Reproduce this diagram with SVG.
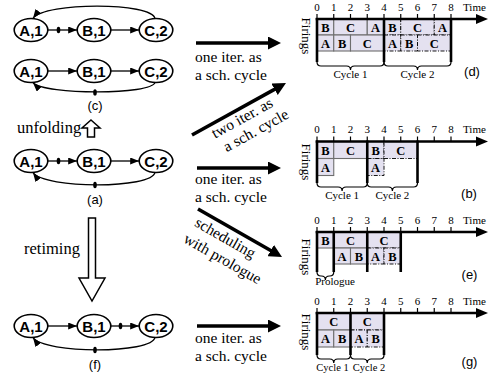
<svg xmlns="http://www.w3.org/2000/svg" width="492" height="377" viewBox="0 0 492 377">
  <style>
    .serif { font-family: "Liberation Serif", "Times New Roman", serif; fill: #000; }
    .sans { font-family: "Liberation Sans", Arial, sans-serif; fill: #000; }
    .cap { font-size: 16.5px; }
    .note { font-size: 15.5px; }
    .tag { font-size: 13px; text-anchor: middle; }
    .node ellipse { fill: #fff; stroke: #000; stroke-width: 1.6; }
    .node text { font-family: "Liberation Sans", Arial, sans-serif; font-weight: bold; font-size: 15px; text-anchor: middle; }
    .edge { fill: none; stroke: #000; stroke-width: 1.3; marker-end: url(#ah); }
    .delay { fill: #000; }
    .big { stroke: #000; stroke-width: 3.6; marker-end: url(#bh); }
    .hollow { fill: #fff; stroke: #000; stroke-width: 1.5; stroke-linejoin: miter; }
    .axis { stroke: #000; stroke-width: 2.6; }
    .tick { stroke: #000; stroke-width: 1.2; }
    .tnum { font-size: 11px; text-anchor: middle; }
    .time { font-size: 11px; }
    .fir { font-size: 13px; text-anchor: middle; }
    .cell { fill: #e4e1f0; stroke: #6e6e6e; stroke-width: 1.1; }
    .celld { fill: #e4e1f0; stroke: #000; stroke-width: 0.9; stroke-dasharray: 4 1.5 1 1.5; }
    .job { font-family: "Liberation Serif", "Times New Roman", serif; font-weight: bold; font-size: 12.5px; text-anchor: middle; }
    .bound { stroke: #000; stroke-width: 2.6; }
    .brace { fill: none; stroke: #000; stroke-width: 1.2; }
    .cyc { font-size: 11px; text-anchor: middle; }
    .cycs { font-size: 10.5px; text-anchor: middle; }
  </style>
  <defs>
    <marker id="ah" markerUnits="userSpaceOnUse" markerWidth="9" markerHeight="7" refX="9" refY="3.5" orient="auto">
      <path d="M0,0 L9,3.5 L0,7 z" fill="#000"/>
    </marker>
    <marker id="bh" markerUnits="userSpaceOnUse" markerWidth="13" markerHeight="13" refX="4" refY="6.5" orient="auto">
      <path d="M0,0 L13,6.5 L0,13 z" fill="#000"/>
    </marker>
    <polygon id="axhead" points="0,-5 12,0 0,5" fill="#000"/>
  </defs>

  <!-- ===== graph (c): two unfolded copies ===== -->
  <g id="graph-c">
    <g id="c1-A" class="node"><ellipse cx="31" cy="30" rx="16.8" ry="11.5"/><text x="31" y="35.5">A,1</text></g>
    <g id="c1-B" class="node"><ellipse cx="94" cy="30" rx="16.8" ry="11.5"/><text x="94" y="35.5">B,1</text></g>
    <g id="c1-C" class="node"><ellipse cx="156" cy="30" rx="16.8" ry="11.5"/><text x="156" y="35.5">C,2</text></g>
    <g id="c2-A" class="node"><ellipse cx="31" cy="71" rx="16.8" ry="11.5"/><text x="31" y="76.5">A,1</text></g>
    <g id="c2-B" class="node"><ellipse cx="94" cy="71" rx="16.8" ry="11.5"/><text x="94" y="76.5">B,1</text></g>
    <g id="c2-C" class="node"><ellipse cx="156" cy="71" rx="16.8" ry="11.5"/><text x="156" y="76.5">C,2</text></g>
  </g>
  <g id="edges-c">
    <line class="edge" x1="47.8" y1="30" x2="77.2" y2="30"/>
    <ellipse class="delay" cx="58.5" cy="30" rx="1.8" ry="3.2"/>
    <line class="edge" x1="110.8" y1="30" x2="139.2" y2="30"/>
    <path class="edge" d="M155,18.6 C152,2 45,2 33,18.3"/>
    <line class="edge" x1="47.8" y1="71" x2="77.2" y2="71"/>
    <line class="edge" x1="110.8" y1="71" x2="139.2" y2="71"/>
    <path class="edge" d="M155,82.4 C152,95 45,95 33,82.7"/>
    <ellipse class="delay" cx="95" cy="92.4" rx="1.8" ry="3.2"/>
  </g>
  <text class="sans tag" x="95" y="109.5">(c)</text>

  <!-- unfolding arrow -->
  <text class="serif cap" x="17" y="133">unfolding</text>
  <polygon class="hollow" points="91,120 100,128 94.5,128 94.5,137 87.5,137 87.5,128 82,128"/>

  <!-- ===== graph (a): original ===== -->
  <g id="graph-a">
    <g id="a-A" class="node"><ellipse cx="31" cy="161" rx="16.8" ry="11.5"/><text x="31" y="166.5">A,1</text></g>
    <g id="a-B" class="node"><ellipse cx="94" cy="161" rx="16.8" ry="11.5"/><text x="94" y="166.5">B,1</text></g>
    <g id="a-C" class="node"><ellipse cx="156" cy="161" rx="16.8" ry="11.5"/><text x="156" y="166.5">C,2</text></g>
  </g>
  <g id="edges-a">
    <line class="edge" x1="47.8" y1="161" x2="77.2" y2="161"/>
    <ellipse class="delay" cx="58.5" cy="161" rx="1.8" ry="3.2"/>
    <line class="edge" x1="110.8" y1="161" x2="139.2" y2="161"/>
    <path class="edge" d="M155,172.4 C152,189 45,189 33,172.7"/>
    <ellipse class="delay" cx="95" cy="185" rx="1.8" ry="3.2"/>
  </g>
  <text class="sans tag" x="95" y="204">(a)</text>

  <!-- retiming arrow -->
  <text class="serif cap" x="24" y="254">retiming</text>
  <polygon class="hollow" points="88.5,218 95.5,218 95.5,278 105,278 92,301 79,278 88.5,278"/>

  <!-- ===== graph (f): retimed ===== -->
  <g id="graph-f">
    <g id="f-A" class="node"><ellipse cx="31" cy="326" rx="16.8" ry="11.5"/><text x="31" y="331.5">A,1</text></g>
    <g id="f-B" class="node"><ellipse cx="94" cy="326" rx="16.8" ry="11.5"/><text x="94" y="331.5">B,1</text></g>
    <g id="f-C" class="node"><ellipse cx="156" cy="326" rx="16.8" ry="11.5"/><text x="156" y="331.5">C,2</text></g>
  </g>
  <g id="edges-f">
    <line class="edge" x1="47.8" y1="326" x2="77.2" y2="326"/>
    <line class="edge" x1="110.8" y1="326" x2="139.2" y2="326"/>
    <ellipse class="delay" cx="120.5" cy="326" rx="1.8" ry="3.2"/>
    <path class="edge" d="M155,337.4 C152,354 45,354 33,337.7"/>
    <ellipse class="delay" cx="95" cy="350" rx="1.8" ry="3.2"/>
  </g>
  <text class="sans tag" x="95" y="369">(f)</text>

  <!-- ===== scheduling arrows ===== -->
  <g id="sched-arrows">
    <line class="big" x1="196" y1="43" x2="272" y2="43"/>
    <line class="big" x1="192" y1="135" x2="278.1" y2="87.4"/>
    <line class="big" x1="197" y1="168" x2="272" y2="168"/>
    <line class="big" x1="198" y1="209" x2="274.2" y2="252.5"/>
    <line class="big" x1="197" y1="326" x2="272" y2="326"/>
  </g>
  <text class="serif note" x="195" y="62">one iter. as</text>
  <text class="serif note" x="195" y="79.5">a sch. cycle</text>
  <g transform="translate(192,135) rotate(-29)">
    <text class="serif note" x="52" y="14.5" text-anchor="middle">two iter. as</text>
    <text class="serif note" x="58" y="32" text-anchor="middle">a sch. cycle</text>
  </g>
  <text class="serif note" x="195" y="184">one iter. as</text>
  <text class="serif note" x="195" y="201.5">a sch. cycle</text>
  <g transform="translate(198,209) rotate(29.7)">
    <text class="serif note" x="38" y="16.5" text-anchor="middle">scheduling</text>
    <text class="serif note" x="46" y="36" text-anchor="middle">with prologue</text>
  </g>
  <text class="serif note" x="195" y="343">one iter. as</text>
  <text class="serif note" x="195" y="360.5">a sch. cycle</text>

  <!-- ===== schedule (d) ===== -->
  <g id="chart-d">
    <rect class="cell" x="317" y="19" width="16.75" height="16"/>
    <rect class="cell" x="333.75" y="19" width="33.5" height="16"/>
    <rect class="cell" x="367.25" y="19" width="16.75" height="16"/>
    <rect class="cell" x="317" y="35" width="16.75" height="16"/>
    <rect class="cell" x="333.75" y="35" width="16.75" height="16"/>
    <rect class="cell" x="350.5" y="35" width="33.5" height="16"/>
    <rect class="celld" x="384" y="19" width="16.75" height="16"/>
    <rect class="celld" x="400.75" y="19" width="33.5" height="16"/>
    <rect class="celld" x="434.25" y="19" width="16.75" height="16"/>
    <rect class="celld" x="384" y="35" width="16.75" height="16"/>
    <rect class="celld" x="400.75" y="35" width="16.75" height="16"/>
    <rect class="celld" x="417.5" y="35" width="33.5" height="16"/>
    <text class="job" x="325.4" y="31.5">B</text>
    <text class="job" x="350.5" y="31.5">C</text>
    <text class="job" x="375.6" y="31.5">A</text>
    <text class="job" x="392.4" y="31.5">B</text>
    <text class="job" x="417.5" y="31.5">C</text>
    <text class="job" x="442.6" y="31.5">A</text>
    <text class="job" x="325.4" y="47.5">A</text>
    <text class="job" x="342.1" y="47.5">B</text>
    <text class="job" x="367.25" y="47.5">C</text>
    <text class="job" x="392.4" y="47.5">A</text>
    <text class="job" x="409.1" y="47.5">B</text>
    <text class="job" x="434.25" y="47.5">C</text>
    <line class="bound" x1="317" y1="18" x2="317" y2="62"/>
    <line class="bound" x1="384" y1="18" x2="384" y2="62"/>
    <line class="bound" x1="451" y1="18" x2="451" y2="62"/>
    <path class="brace" d="M317,62 q0,4 4,4 H346.5 q4,0 4,4 q0,-4 4,-4 H380 q4,0 4,-4"/>
    <path class="brace" d="M384,62 q0,4 4,4 H413.5 q4,0 4,4 q0,-4 4,-4 H447 q4,0 4,-4"/>
    <text class="serif cyc" x="350.5" y="78">Cycle 1</text>
    <text class="serif cyc" x="417.5" y="78">Cycle 2</text>
    <line class="axis" x1="315.7" y1="19" x2="478" y2="19"/>
    <use href="#axhead" x="476" y="19"/>
    <g class="tick">
      <line x1="317" y1="14" x2="317" y2="19"/><line x1="333.75" y1="14" x2="333.75" y2="19"/>
      <line x1="350.5" y1="14" x2="350.5" y2="19"/><line x1="367.25" y1="14" x2="367.25" y2="19"/>
      <line x1="384" y1="14" x2="384" y2="19"/><line x1="400.75" y1="14" x2="400.75" y2="19"/>
      <line x1="417.5" y1="14" x2="417.5" y2="19"/><line x1="434.25" y1="14" x2="434.25" y2="19"/>
      <line x1="451" y1="14" x2="451" y2="19"/>
    </g>
    <g class="serif tnum">
      <text x="317" y="10.5">0</text><text x="333.75" y="10.5">1</text><text x="350.5" y="10.5">2</text>
      <text x="367.25" y="10.5">3</text><text x="384" y="10.5">4</text><text x="400.75" y="10.5">5</text>
      <text x="417.5" y="10.5">6</text><text x="434.25" y="10.5">7</text><text x="451" y="10.5">8</text>
    </g>
    <text class="serif time" x="463" y="10.5">Time</text>
    <text class="serif fir" transform="translate(301.5,36) rotate(90)">Firings</text>
    <text class="sans tag" x="472" y="76">(d)</text>
  </g>

  <!-- ===== schedule (b) ===== -->
  <g id="chart-b">
    <rect class="cell" x="317" y="141.5" width="16.75" height="17"/>
    <rect class="cell" x="333.75" y="141.5" width="33.5" height="17"/>
    <rect class="cell" x="317" y="158.5" width="16.75" height="17"/>
    <rect class="celld" x="367.25" y="141.5" width="16.75" height="17"/>
    <rect class="celld" x="384" y="141.5" width="33.5" height="17"/>
    <rect class="celld" x="367.25" y="158.5" width="16.75" height="17"/>
    <text class="job" x="325.4" y="154.5">B</text>
    <text class="job" x="350.5" y="154.5">C</text>
    <text class="job" x="375.6" y="154.5">B</text>
    <text class="job" x="400.75" y="154.5">C</text>
    <text class="job" x="325.4" y="171.5">A</text>
    <text class="job" x="375.6" y="171.5">A</text>
    <line class="bound" x1="317" y1="140.5" x2="317" y2="183"/>
    <line class="bound" x1="367.25" y1="140.5" x2="367.25" y2="183"/>
    <line class="bound" x1="417.5" y1="140.5" x2="417.5" y2="183"/>
    <path class="brace" d="M317,183 q0,4 4,4 H338.1 q4,0 4,4 q0,-4 4,-4 H363.25 q4,0 4,-4"/>
    <path class="brace" d="M367.25,183 q0,4 4,4 H388.4 q4,0 4,4 q0,-4 4,-4 H413.5 q4,0 4,-4"/>
    <text class="serif cyc" x="342.1" y="199">Cycle 1</text>
    <text class="serif cyc" x="392.4" y="199">Cycle 2</text>
    <line class="axis" x1="315.7" y1="141.5" x2="478" y2="141.5"/>
    <use href="#axhead" x="476" y="141.5"/>
    <g class="tick">
      <line x1="317" y1="136.5" x2="317" y2="141.5"/><line x1="333.75" y1="136.5" x2="333.75" y2="141.5"/>
      <line x1="350.5" y1="136.5" x2="350.5" y2="141.5"/><line x1="367.25" y1="136.5" x2="367.25" y2="141.5"/>
      <line x1="384" y1="136.5" x2="384" y2="141.5"/><line x1="400.75" y1="136.5" x2="400.75" y2="141.5"/>
      <line x1="417.5" y1="136.5" x2="417.5" y2="141.5"/><line x1="434.25" y1="136.5" x2="434.25" y2="141.5"/>
      <line x1="451" y1="136.5" x2="451" y2="141.5"/>
    </g>
    <g class="serif tnum">
      <text x="317" y="133">0</text><text x="333.75" y="133">1</text><text x="350.5" y="133">2</text>
      <text x="367.25" y="133">3</text><text x="384" y="133">4</text><text x="400.75" y="133">5</text>
      <text x="417.5" y="133">6</text><text x="434.25" y="133">7</text><text x="451" y="133">8</text>
    </g>
    <text class="serif time" x="463" y="133">Time</text>
    <text class="serif fir" transform="translate(301.5,162) rotate(90)">Firings</text>
    <text class="sans tag" x="469" y="198">(b)</text>
  </g>

  <!-- ===== schedule (e) ===== -->
  <g id="chart-e">
    <rect class="cell" x="317" y="232" width="16.75" height="16"/>
    <rect class="cell" x="333.75" y="232" width="33.5" height="16"/>
    <rect class="cell" x="333.75" y="248" width="16.75" height="16"/>
    <rect class="cell" x="350.5" y="248" width="16.75" height="16"/>
    <rect class="celld" x="367.25" y="232" width="33.5" height="16"/>
    <rect class="celld" x="367.25" y="248" width="16.75" height="16"/>
    <rect class="celld" x="384" y="248" width="16.75" height="16"/>
    <text class="job" x="325.4" y="244.5">B</text>
    <text class="job" x="350.5" y="244.5">C</text>
    <text class="job" x="384" y="244.5">C</text>
    <text class="job" x="342.1" y="260.5">A</text>
    <text class="job" x="358.9" y="260.5">B</text>
    <text class="job" x="375.6" y="260.5">A</text>
    <text class="job" x="392.4" y="260.5">B</text>
    <line class="bound" x1="317" y1="231" x2="317" y2="272"/>
    <line class="bound" x1="333.75" y1="231" x2="333.75" y2="272"/>
    <line class="bound" x1="367.25" y1="231" x2="367.25" y2="272"/>
    <line class="bound" x1="400.75" y1="231" x2="400.75" y2="272"/>
    <path class="brace" d="M317,272 q0,4 4,4 H321.4 q4,0 4,4 q0,-4 4,-4 H329.75 q4,0 4,-4"/>
    <text class="serif cyc" x="335" y="285">Prologue</text>
    <line class="axis" x1="315.7" y1="232" x2="478" y2="232"/>
    <use href="#axhead" x="476" y="232"/>
    <g class="tick">
      <line x1="317" y1="227" x2="317" y2="232"/><line x1="333.75" y1="227" x2="333.75" y2="232"/>
      <line x1="350.5" y1="227" x2="350.5" y2="232"/><line x1="367.25" y1="227" x2="367.25" y2="232"/>
      <line x1="384" y1="227" x2="384" y2="232"/><line x1="400.75" y1="227" x2="400.75" y2="232"/>
      <line x1="417.5" y1="227" x2="417.5" y2="232"/><line x1="434.25" y1="227" x2="434.25" y2="232"/>
      <line x1="451" y1="227" x2="451" y2="232"/>
    </g>
    <g class="serif tnum">
      <text x="317" y="223.5">0</text><text x="333.75" y="223.5">1</text><text x="350.5" y="223.5">2</text>
      <text x="367.25" y="223.5">3</text><text x="384" y="223.5">4</text><text x="400.75" y="223.5">5</text>
      <text x="417.5" y="223.5">6</text><text x="434.25" y="223.5">7</text><text x="451" y="223.5">8</text>
    </g>
    <text class="serif time" x="463" y="223.5">Time</text>
    <text class="serif fir" transform="translate(301.5,257) rotate(90)">Firings</text>
    <text class="sans tag" x="469.5" y="279">(e)</text>
  </g>

  <!-- ===== schedule (g) ===== -->
  <g id="chart-g">
    <rect class="cell" x="317" y="313" width="33.5" height="17"/>
    <rect class="cell" x="317" y="330" width="16.75" height="17"/>
    <rect class="cell" x="333.75" y="330" width="16.75" height="17"/>
    <rect class="celld" x="350.5" y="313" width="33.5" height="17"/>
    <rect class="celld" x="350.5" y="330" width="16.75" height="17"/>
    <rect class="celld" x="367.25" y="330" width="16.75" height="17"/>
    <text class="job" x="333.75" y="326">C</text>
    <text class="job" x="367.25" y="326">C</text>
    <text class="job" x="325.4" y="343">A</text>
    <text class="job" x="342.1" y="343">B</text>
    <text class="job" x="358.9" y="343">A</text>
    <text class="job" x="375.6" y="343">B</text>
    <line class="bound" x1="317" y1="312" x2="317" y2="355"/>
    <line class="bound" x1="350.5" y1="312" x2="350.5" y2="355"/>
    <line class="bound" x1="384" y1="312" x2="384" y2="355"/>
    <path class="brace" d="M317,355 q0,4 4,4 H329.75 q4,0 4,4 q0,-4 4,-4 H346.5 q4,0 4,-4"/>
    <path class="brace" d="M350.5,355 q0,4 4,4 H363.25 q4,0 4,4 q0,-4 4,-4 H380 q4,0 4,-4"/>
    <text class="serif cycs" x="332.5" y="371">Cycle 1</text>
    <text class="serif cycs" x="369" y="371">Cycle 2</text>
    <line class="axis" x1="315.7" y1="313" x2="478" y2="313"/>
    <use href="#axhead" x="476" y="313"/>
    <g class="tick">
      <line x1="317" y1="308" x2="317" y2="313"/><line x1="333.75" y1="308" x2="333.75" y2="313"/>
      <line x1="350.5" y1="308" x2="350.5" y2="313"/><line x1="367.25" y1="308" x2="367.25" y2="313"/>
      <line x1="384" y1="308" x2="384" y2="313"/><line x1="400.75" y1="308" x2="400.75" y2="313"/>
      <line x1="417.5" y1="308" x2="417.5" y2="313"/><line x1="434.25" y1="308" x2="434.25" y2="313"/>
      <line x1="451" y1="308" x2="451" y2="313"/>
    </g>
    <g class="serif tnum">
      <text x="317" y="305">0</text><text x="333.75" y="305">1</text><text x="350.5" y="305">2</text>
      <text x="367.25" y="305">3</text><text x="384" y="305">4</text><text x="400.75" y="305">5</text>
      <text x="417.5" y="305">6</text><text x="434.25" y="305">7</text><text x="451" y="305">8</text>
    </g>
    <text class="serif time" x="463" y="305">Time</text>
    <text class="serif fir" transform="translate(301.5,332) rotate(90)">Firings</text>
    <text class="sans tag" x="469.5" y="366">(g)</text>
  </g>
</svg>
